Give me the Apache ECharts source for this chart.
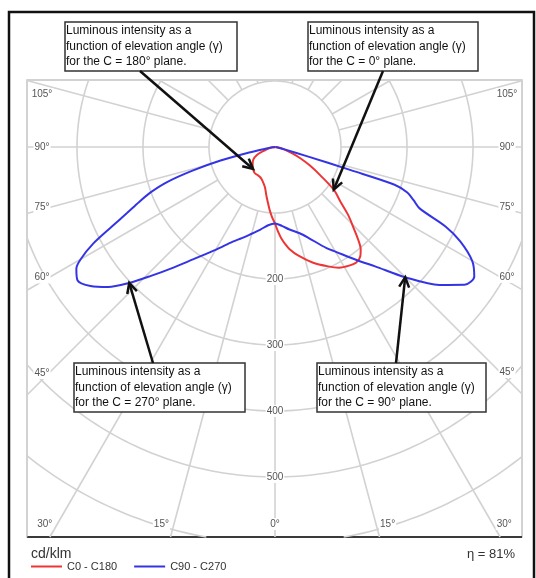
<!DOCTYPE html>
<html>
<head>
<meta charset="utf-8">
<script src="https://cdn.jsdelivr.net/npm/echarts@6/dist/echarts.min.js"></script>
<style>
  html, body { margin: 0; padding: 0; background: #fff; }
  #chart { width: 536px; height: 578px; }
</style>
</head>
<body>
<div id="chart"></div>
<script>
// Luminous intensity (cd/klm) against elevation angle γ (degrees) for each C-plane.
const gammaC0 = [0, 2, 4, 6, 8, 12, 18, 24, 28, 32, 35, 38, 40, 42, 44, 47, 50, 54, 58, 62, 66, 70, 75, 80, 85, 90];
const intensityC0 = [116, 128, 139, 148, 156, 168, 184, 198, 207, 212, 214, 210, 202, 188, 172, 152, 130, 110, 81, 60, 42, 28, 15, 7, 3, 0];

const gammaC180 = [0, 2.5, 5, 7, 10, 14, 20, 26, 32, 38, 45, 52, 60, 66, 70, 75, 80, 85, 90];
const intensityC180 = [116, 106, 95, 86, 75, 63, 55, 51, 50, 50, 47, 43, 38, 30, 21, 13, 7, 3, 0];

const gammaC90 = [0, 5, 10, 16, 20, 27, 30, 36, 40, 45, 50, 54, 57, 60, 63, 65, 67, 69, 71, 72.5, 73, 74, 76, 80, 85, 90];
const intensityC90 = [116, 120, 127, 136, 146, 172, 183, 212, 236, 279, 325, 355, 360, 345, 315, 285, 238, 225, 212, 190, 120, 50, 15, 4, 1, 0];

const gammaC270 = [0, 5, 10, 16, 20, 24, 30, 36, 40, 44, 47, 50, 53, 56, 58.5, 60, 62, 64, 66, 68, 70, 72, 74, 76, 78, 80, 84, 90];
const intensityC270 = [116, 119, 127, 138, 147, 157, 180, 210, 238, 272, 302, 330, 350, 361, 353, 340, 312, 275, 245, 222, 200, 172, 130, 85, 40, 15, 4, 0];

// Grid: intensity rings, labelled rings and labelled elevation angles.
const ringValues = [100, 200, 300, 400, 500, 600, 700];
const ringLabels = [200, 300, 400, 500];
const spokeGammas = [0, 15, 30, 45, 60, 75, 90, 105, 120, 135, 150, 165, 180];
const angleLabels = [0, 15, 30, 45, 60, 75, 90, 105];

const seriesNames = ['C0 - C180', 'C90 - C270'];
const unitLabel = 'cd/klm';
const efficiencyLabel = 'η = 81%';

// ---- layout and styling ----
const CENTER = [275, 147];
const PX_PER_CD = 0.66;
const R_MAX = 700;
const PLOT = { x0: 27, y0: 80, x1: 522, y1: 537 };
const LABEL = { insetL: 49, centerL: 42, insetR: 500, centerR: 507, bottomY: 524, minY: 94 };
const RED = '#ee3535';
const BLUE = '#3434e4';
const GRID = '#d2d2d2';
const FONT = '"Liberation Sans", Arial, sans-serif';

// A full curve runs from the left half-plane (γ 90 → 0) to the right half-plane (γ 0 → 90).
// Angles are measured from straight down; the left half is mirrored to 360 − γ.
function planePair(gLeft, iLeft, gRight, iRight) {
  const pts = [];
  for (let k = gLeft.length - 1; k >= 0; k--) pts.push([iLeft[k], 360 - gLeft[k]]);
  for (let k = 1; k < gRight.length; k++) pts.push([iRight[k], gRight[k]]);
  return pts;
}
const redData = planePair(gammaC180, intensityC180, gammaC0, intensityC0);
const blueData = planePair(gammaC270, intensityC270, gammaC90, intensityC90);

// Liang–Barsky clipping of a segment to the plot rectangle.
function clipSegment(p, q) {
  let t0 = 0, t1 = 1;
  const dx = q[0] - p[0], dy = q[1] - p[1];
  const tests = [[-dx, p[0] - PLOT.x0], [dx, PLOT.x1 - p[0]], [-dy, p[1] - PLOT.y0], [dy, PLOT.y1 - p[1]]];
  for (const [pp, qq] of tests) {
    if (pp === 0) { if (qq < 0) return null; continue; }
    const r = qq / pp;
    if (pp < 0) { if (r > t1) return null; if (r > t0) t0 = r; }
    else { if (r < t0) return null; if (r < t1) t1 = r; }
  }
  return [[p[0] + t0 * dx, p[1] + t0 * dy], [p[0] + t1 * dx, p[1] + t1 * dy]];
}

function gridText(text, x, y, align) {
  return {
    type: 'text', silent: true, z2: 5,
    style: {
      text, x, y, align, verticalAlign: 'middle',
      fill: '#555', font: '10px ' + FONT,
      backgroundColor: '#fff', padding: [1, 1]
    }
  };
}

function renderGrid(params, api) {
  const c = api.coord([0, 0]);
  const kids = [];
  const gridStyle = { stroke: GRID, lineWidth: 1.6, fill: null };
  const addRun = run => kids.push({ type: 'polyline', silent: true, shape: { points: run }, style: gridStyle });

  // rings, clipped to the plot frame
  ringValues.forEach(v => {
    let run = null;
    for (let a = 0; a < 360; a++) {
      const seg = clipSegment(api.coord([v, a]), api.coord([v, a + 1]));
      if (!seg) { if (run) addRun(run); run = null; continue; }
      const last = run && run[run.length - 1];
      if (last && Math.hypot(last[0] - seg[0][0], last[1] - seg[0][1]) < 0.01) run.push(seg[1]);
      else { if (run) addRun(run); run = [seg[0], seg[1]]; }
    }
    if (run) addRun(run);
  });

  // spokes start at the first ring and run out to the frame
  const thetas = [];
  spokeGammas.forEach(g => {
    thetas.push(g);
    if (g !== 0 && g !== 180) thetas.push(360 - g);
  });
  thetas.forEach(th => {
    const p = api.coord([ringValues[0], th]);
    const len = Math.hypot(p[0] - c[0], p[1] - c[1]);
    const far = [c[0] + (p[0] - c[0]) / len * 2000, c[1] + (p[1] - c[1]) / len * 2000];
    const seg = clipSegment(p, far);
    if (seg) kids.push({ type: 'line', silent: true, shape: { x1: seg[0][0], y1: seg[0][1], x2: seg[1][0], y2: seg[1][1] }, style: gridStyle });
  });

  // ring values along the γ = 0 spoke
  ringLabels.forEach(v => {
    const p = api.coord([v, 0]);
    kids.push(gridText(String(v), p[0], p[1], 'center'));
  });

  // elevation-angle labels at the outer ends of the spokes
  angleLabels.forEach(g => {
    const ths = g === 0 ? [0] : [g, 360 - g];
    ths.forEach(th => {
      const p = api.coord([ringValues[0], th]);
      const ux = p[0] - c[0], uy = p[1] - c[1];
      const txt = g + '°';
      if (uy > 0) {
        const xb = c[0] + (LABEL.bottomY - c[1]) * ux / uy;
        if (xb >= LABEL.centerL && xb <= LABEL.centerR) {
          if (Math.abs(ux) < 1e-6) kids.push(gridText(txt, xb, LABEL.bottomY, 'center'));
          else if (ux < 0) kids.push(gridText(txt, xb - 4, LABEL.bottomY, 'right'));
          else kids.push(gridText(txt, xb + 3, LABEL.bottomY, 'left'));
          return;
        }
      }
      const xi = ux < 0 ? LABEL.insetL : LABEL.insetR;
      const y = Math.max(c[1] + (xi - c[0]) * uy / ux, LABEL.minY);
      kids.push(gridText(txt, ux < 0 ? LABEL.centerL : LABEL.centerR, y, 'center'));
    });
  });

  return { type: 'group', children: kids };
}

const chart = echarts.init(document.getElementById('chart'), null, { renderer: 'canvas' });

chart.setOption({
  animation: false,
  backgroundColor: '#fff',
  polar: { center: CENTER, radius: R_MAX * PX_PER_CD },
  angleAxis: { type: 'value', min: 0, max: 360, startAngle: -90, clockwise: false, show: false },
  radiusAxis: { type: 'value', min: 0, max: R_MAX, show: false },
  legend: {
    data: seriesNames,
    left: 31, top: 561, padding: 0,
    icon: 'rect', itemWidth: 31, itemHeight: 2, itemGap: 17,
    selectedMode: false,
    textStyle: { fontSize: 11, color: '#333', fontFamily: FONT }
  },
  series: [
    { type: 'custom', coordinateSystem: 'polar', silent: true, z: 1, data: [[0, 0]], renderItem: renderGrid },
    {
      name: seriesNames[0], type: 'line', coordinateSystem: 'polar', data: redData,
      showSymbol: false, smooth: 0.3, z: 3,
      lineStyle: { color: RED, width: 2 }, itemStyle: { color: RED }
    },
    {
      name: seriesNames[1], type: 'line', coordinateSystem: 'polar', data: blueData,
      showSymbol: false, smooth: 0.3, z: 3,
      lineStyle: { color: BLUE, width: 2 }, itemStyle: { color: BLUE }
    }
  ]
});

// Call-out boxes, each pointing at a value on one half-plane curve.
const callouts = [
  { box: [65, 22, 172, 49], tail: [140, 71], series: 1, theta: 360 - 45, value: intensityC180[gammaC180.indexOf(45)],
    text: 'Luminous intensity as a\nfunction of elevation angle (γ)\nfor the C = 180° plane.' },
  { box: [308, 22, 170, 49], tail: [383, 71], series: 1, theta: 54, value: intensityC0[gammaC0.indexOf(54)],
    text: 'Luminous intensity as a\nfunction of elevation angle (γ)\nfor the C = 0° plane.' },
  { box: [74, 363, 171, 49], tail: [153, 363], series: 2, theta: 360 - 47, value: intensityC270[gammaC270.indexOf(47)],
    text: 'Luminous intensity as a\nfunction of elevation angle (γ)\nfor the C = 270° plane.' },
  { box: [317, 363, 169, 49], tail: [396, 363], series: 2, theta: 45, value: intensityC90[gammaC90.indexOf(45)],
    text: 'Luminous intensity as a\nfunction of elevation angle (γ)\nfor the C = 90° plane.' }
];

const graphics = [
  // outer frame
  { type: 'rect', silent: true, z: 0, shape: { x: 9, y: 12, width: 525, height: 600 }, style: { fill: null, stroke: '#111', lineWidth: 2.5 } },
  // plot frame
  { type: 'rect', silent: true, z: 0, shape: { x: PLOT.x0, y: PLOT.y0, width: PLOT.x1 - PLOT.x0, height: PLOT.y1 - PLOT.y0 }, style: { fill: null, stroke: '#c4c4c4', lineWidth: 1.5 } },
  { type: 'line', silent: true, z: 0, shape: { x1: PLOT.x0, y1: PLOT.y1, x2: PLOT.x1, y2: PLOT.y1 }, style: { stroke: '#3a3a3a', lineWidth: 2 } },
  // unit and efficiency
  { type: 'text', silent: true, x: 31, y: 554, style: { text: unitLabel, font: '14px ' + FONT, fill: '#333', verticalAlign: 'middle' } },
  { type: 'text', silent: true, x: 515, y: 554, style: { text: efficiencyLabel, font: '13px ' + FONT, fill: '#333', align: 'right', verticalAlign: 'middle' } }
];

callouts.forEach(cb => {
  const [bx, by, bw, bh] = cb.box;
  graphics.push({ type: 'rect', silent: true, z: 10, shape: { x: bx, y: by, width: bw, height: bh }, style: { fill: '#fff', stroke: '#333', lineWidth: 1.5 } });
  graphics.push({ type: 'text', silent: true, z: 11, x: bx + 1, y: by + bh / 2,
    style: { text: cb.text, font: '12px ' + FONT, fill: '#111', lineHeight: 15.5, verticalAlign: 'middle' } });
  const tip = chart.convertToPixel({ seriesIndex: cb.series }, [cb.value, cb.theta]);
  const dx = tip[0] - cb.tail[0], dy = tip[1] - cb.tail[1];
  const len = Math.hypot(dx, dy), ux = dx / len, uy = dy / len;
  graphics.push({ type: 'line', silent: true, z: 12, shape: { x1: cb.tail[0], y1: cb.tail[1], x2: tip[0] - ux * 1.5, y2: tip[1] - uy * 1.5 },
    style: { stroke: '#111', lineWidth: 2.5 } });
  const L = 10, W = 5;
  graphics.push({ type: 'polyline', silent: true, z: 12,
    shape: { points: [[tip[0] - ux * L - uy * W, tip[1] - uy * L + ux * W], [tip[0], tip[1]], [tip[0] - ux * L + uy * W, tip[1] - uy * L - ux * W]] },
    style: { stroke: '#111', lineWidth: 2.5, fill: null } });
});

chart.setOption({ graphic: graphics });
</script>
</body>
</html>
